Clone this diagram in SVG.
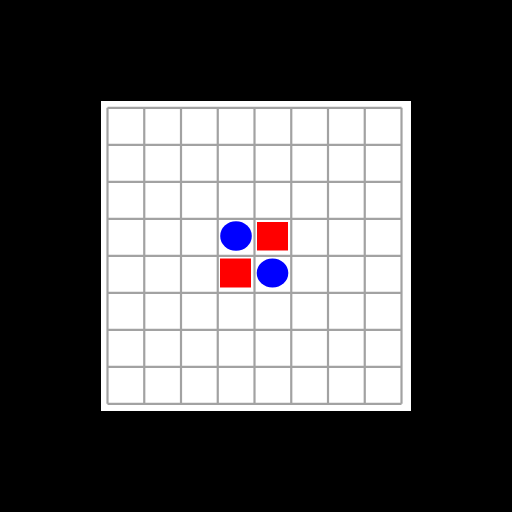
<svg xmlns="http://www.w3.org/2000/svg" width="512" height="512" viewBox="0 0 512 512">
<defs><style>
.g{stroke:#a2a2a2;stroke-width:2.2;fill:none}
.r{fill:#ff0000}
.b{fill:#0000ff}
</style></defs>
<rect x="0" y="0" width="512" height="512" fill="#000"/>
<rect x="101" y="101" width="310" height="310" fill="#fff"/>
<g id="grid" class="g">
<path d="M107.5 107.8V403.8M144.25 107.8V403.8M181 107.8V403.8M217.75 107.8V403.8M254.5 107.8V403.8M291.25 107.8V403.8M328 107.8V403.8M364.75 107.8V403.8M401.5 107.8V403.8"/>
<path d="M107.5 107.8H401.5M107.5 144.8H401.5M107.5 181.8H401.5M107.5 218.8H401.5M107.5 255.8H401.5M107.5 292.8H401.5M107.5 329.8H401.5M107.5 366.8H401.5M107.5 403.8H401.5"/>
</g>
<g id="c1"><ellipse class="b" cx="236" cy="236" rx="15.8" ry="14.8"/></g>
<g id="s1"><rect class="r" x="257" y="222" width="31" height="28.5"/></g>
<g id="s2"><rect class="r" x="220" y="258.5" width="31" height="29"/></g>
<g id="c2"><ellipse class="b" cx="272.5" cy="273" rx="15.8" ry="14.5"/></g>
</svg>
